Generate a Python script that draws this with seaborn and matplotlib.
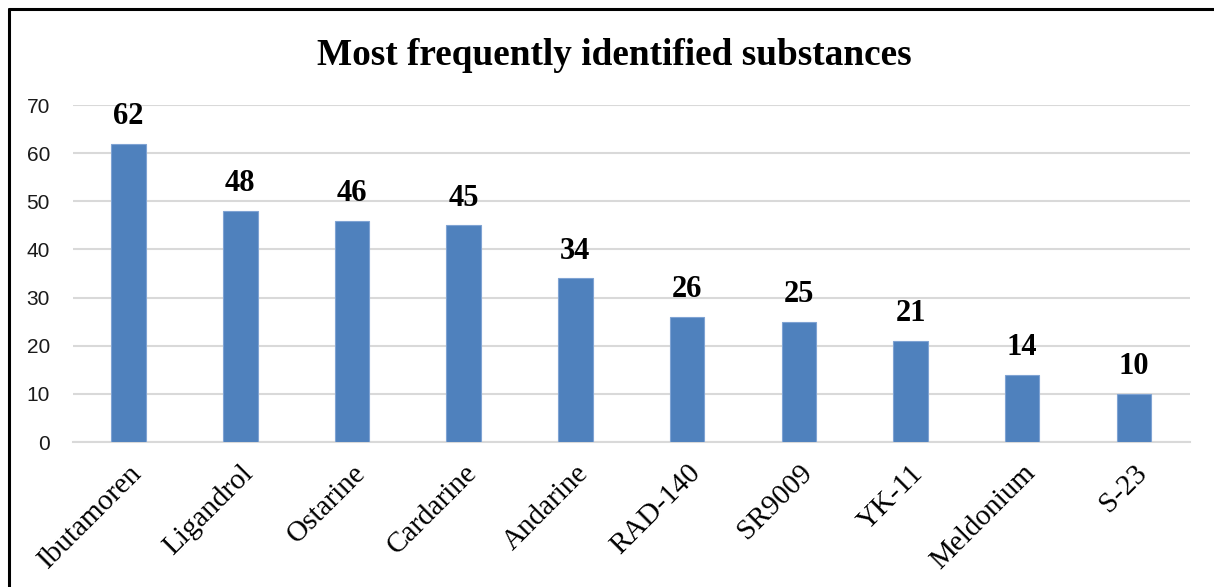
import matplotlib
matplotlib.use("Agg")
import matplotlib.pyplot as plt
from matplotlib.lines import Line2D
import seaborn as sns
import pandas as pd

substances = ["Ibutamoren", "Ligandrol", "Ostarine", "Cardarine", "Andarine",
              "RAD-140", "SR9009", "YK-11", "Meldonium", "S-23"]
counts = [62, 48, 46, 45, 34, 26, 25, 21, 14, 10]
y_ticks = [0, 10, 20, 30, 40, 50, 60, 70]

df = pd.DataFrame({"substance": substances, "count": counts})

sns.set_theme(style="white")
fig = plt.figure(figsize=(12.14, 5.87), dpi=100)
ax = fig.add_axes([0.060, 0.247, 0.920, 0.574])

sns.barplot(data=df, x="substance", y="count", color="#4F81BD", width=0.31,
            saturation=1, edgecolor="#7FA3D3", linewidth=0.8, ax=ax, zorder=3)

ax.set_ylim(0, 70)
ax.set_yticks(y_ticks)
ax.set_xlim(-0.5, len(substances) - 0.5)
ax.yaxis.grid(True, color="#D9D9D9", linewidth=1.5, zorder=0)
ax.xaxis.grid(False)
for side in ["top", "right", "left"]:
    ax.spines[side].set_visible(False)
ax.spines["bottom"].set_color("#D9D9D9")
ax.spines["bottom"].set_linewidth(1.5)
ax.set_xlabel("")
ax.set_ylabel("")
ax.tick_params(axis="both", length=0)
ax.tick_params(axis="y", pad=16.5)

for lbl in ax.get_yticklabels():
    lbl.set_fontfamily("Liberation Sans")
    lbl.set_fontsize(15)
    lbl.set_color("#1a1a1a")

ax.set_xticks(range(len(substances)))
ax.set_xticklabels(substances, rotation=45, ha="right", rotation_mode="anchor",
                   fontfamily="Liberation Serif", fontsize=21, color="black")
ax.tick_params(axis="x", pad=13)

for container in ax.containers:
    ax.bar_label(container, labels=[str(v) for v in counts], padding=9,
                 fontfamily="Liberation Serif", fontweight="bold", fontsize=22,
                 color="black")

fig.text(0.506, 0.905, "Most frequently identified substances", ha="center",
         va="center", fontfamily="Liberation Serif", fontweight="bold",
         fontsize=26.8, color="black")

# Frame around the chart area
bx = 8.5 / 1214
by = 1 - 8.5 / 587
fig.add_artist(Line2D([bx, 1.0], [by, by], transform=fig.transFigure,
                      color="black", linewidth=2.2))
fig.add_artist(Line2D([bx, bx], [0.0, by], transform=fig.transFigure,
                      color="black", linewidth=2.2))

fig.savefig("out.png", dpi=100, facecolor="white")
